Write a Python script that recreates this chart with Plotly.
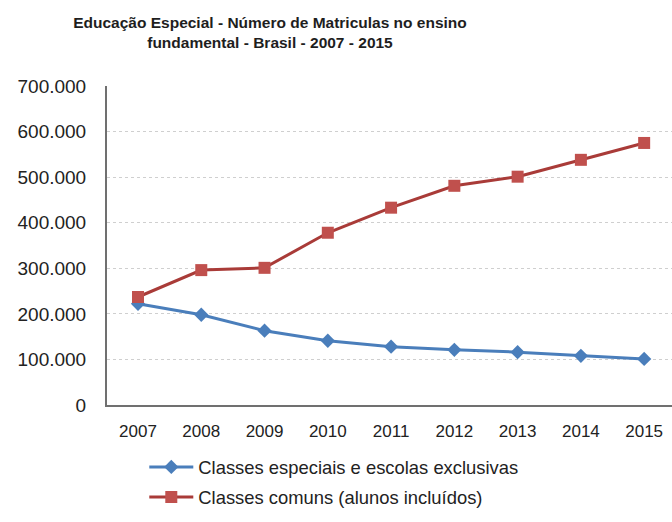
import plotly.graph_objects as go

years = ["2007", "2008", "2009", "2010", "2011", "2012", "2013", "2014", "2015"]
especiais = [222000, 198000, 163000, 141000, 128000, 121000, 116000, 108000, 101000]
comuns = [237000, 296000, 301000, 378000, 433000, 481000, 501000, 538000, 575000]
y_ticks = [0, 100000, 200000, 300000, 400000, 500000, 600000, 700000]
y_tick_labels = ["0", "100.000", "200.000", "300.000", "400.000", "500.000", "600.000", "700.000"]

fig = go.Figure()
fig.add_trace(go.Scatter(
    x=years, y=especiais, mode="lines+markers",
    name="Classes especiais e escolas exclusivas",
    line=dict(color="#4A7EBB", width=3),
    marker=dict(symbol="diamond", size=11, color="#4A7EBB"),
    legend="legend",
))
fig.add_trace(go.Scatter(
    x=years, y=comuns, mode="lines+markers",
    name="Classes comuns (alunos incluídos)",
    line=dict(color="#A93B38", width=3),
    marker=dict(symbol="square", size=12, color="#C0504D"),
    legend="legend2",
))

legend_font = dict(family="Liberation Sans, Arial", size=18.4, color="#222222")
fig.update_layout(
    width=672, height=522,
    paper_bgcolor="white", plot_bgcolor="white",
    margin=dict(l=107, r=0, t=86, b=117),
    title=dict(
        text="<b>Educação Especial - Número de Matriculas no ensino<br>fundamental - Brasil - 2007 - 2015</b>",
        x=270 / 672, xanchor="center", yref="container", y=1 - 28 / 522, yanchor="middle",
        font=dict(family="Liberation Sans, Arial", size=15.5, color="#1E1E1E"),
    ),
    font=dict(family="Liberation Sans, Arial", color="#222222"),
    showlegend=True,
    legend=dict(
        orientation="v", x=0.066, xanchor="left", yref="container", y=1 - 467 / 522, yanchor="middle",
        font=legend_font, itemwidth=44,
    ),
    legend2=dict(
        orientation="v", x=0.066, xanchor="left", yref="container", y=1 - 497 / 522, yanchor="middle",
        font=legend_font, itemwidth=44,
    ),
)
fig.update_xaxes(
    type="category", range=[-0.49, 8.44],
    showline=True, linecolor="#707070", linewidth=2,
    showgrid=False, ticks="", tickfont=dict(size=17, color="#222222"),
    ticklabelstandoff=10,
)
fig.update_yaxes(
    range=[0, 700000], tickvals=y_ticks, ticktext=y_tick_labels,
    showline=True, linecolor="#707070", linewidth=2,
    showgrid=True, gridcolor="#CFCFCF", gridwidth=1, griddash="dot",
    ticks="", tickfont=dict(size=19, color="#222222"), zeroline=False,
    ticklabelstandoff=15,
)

fig.write_html("out.html")
